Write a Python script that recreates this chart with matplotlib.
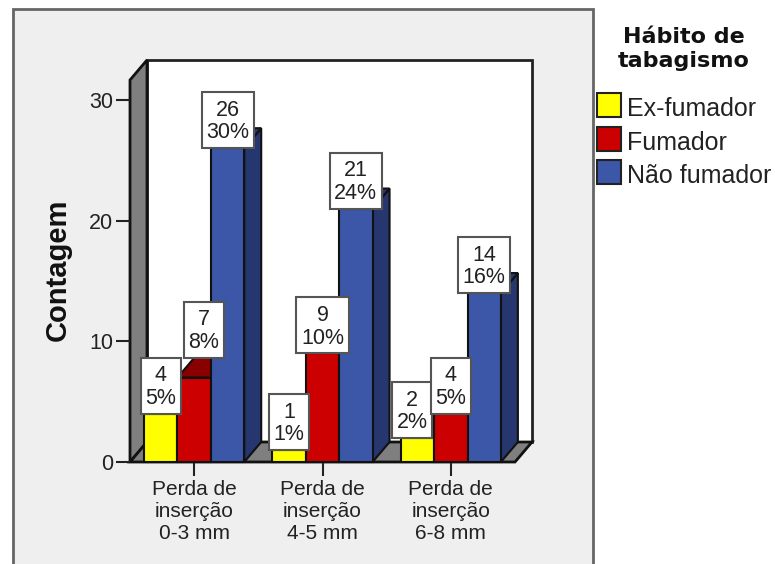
import matplotlib
matplotlib.use('Agg')
import matplotlib.pyplot as plt
from matplotlib.patches import Polygon, Rectangle

plt.rcParams['font.family'] = ['Liberation Sans', 'DejaVu Sans']

categories = ['Perda de\ninserção\n0-3 mm', 'Perda de\ninserção\n4-5 mm', 'Perda de\ninserção\n6-8 mm']
series_names = ['Ex-fumador', 'Fumador', 'Não fumador']
ex_fumador = [4, 1, 2]
fumador = [7, 9, 4]
nao_fumador = [26, 21, 14]
pct_ex = ['5%', '1%', '2%']
pct_fum = ['8%', '10%', '5%']
pct_nao = ['30%', '24%', '16%']
y_ticks = [0, 10, 20, 30]

front = ['#FFFF00', '#CC0000', '#3C56A8']
side = ['#A8A800', '#8A0000', '#26366F']
text_col = '#222222'
W, H = 775, 564

fig = plt.figure(figsize=(W / 100, H / 100), dpi=100, facecolor='white')

# panel and legend in pixel coordinates
bg = fig.add_axes([0, 0, 1, 1])
bg.set_xlim(0, W)
bg.set_ylim(H, 0)
bg.axis('off')
bg.add_patch(Rectangle((13, 9), 580, H, facecolor='#EFEFEF', edgecolor='#666666', lw=2))

bg.text(684, 49, 'Hábito de\ntabagismo', family='DejaVu Sans', weight='bold', fontsize=16,
        ha='center', va='center', linespacing=1.28, color='#111111')
for i, name in enumerate(series_names):
    top = 93 + i * 33.5
    bg.add_patch(Rectangle((597, top), 24, 24, facecolor=front[i], edgecolor='#222222', lw=1.5))
    bg.text(627, top + 16, name, fontsize=18, va='center', color=text_col)

bg.text(58, 270, 'Contagem', rotation=90, weight='bold', fontsize=21, ha='center', va='center',
        color='#111111')

# front plane of the 3d box
ax = fig.add_axes([130 / W, 1 - 462 / H, 385 / W, 382 / H])
ymax = 382 / 12.07
ax.set_xlim(-0.5, 2.5)
ax.set_ylim(0, ymax)
ax.patch.set_visible(False)
for s in ax.spines.values():
    s.set_visible(False)

px_x = 1 / 128.33
px_y = 1 / 12.07
dx = 17 * px_x
dy = 20 * px_y
x0, x1 = -0.5, 2.5

ax.add_patch(Rectangle((x0 + dx, dy), x1 - x0, ymax, facecolor='white', edgecolor='#222222',
                       lw=2, clip_on=False, zorder=1))
ax.add_patch(Polygon([(x0, 0), (x0, ymax), (x0 + dx, ymax + dy), (x0 + dx, dy)], facecolor='#7F7F7F',
                     edgecolor='#111111', lw=2, clip_on=False, zorder=1.5))
ax.add_patch(Polygon([(x0, 0), (x1, 0), (x1 + dx, dy), (x0 + dx, dy)], facecolor='#7F7F7F',
                     edgecolor='#111111', lw=2, clip_on=False, zorder=1.5))

width = 0.26
values = [ex_fumador, fumador, nao_fumador]
pcts = [pct_ex, pct_fum, pct_nao]

for j, vals in enumerate(values):
    offset = (j - 1) * width
    for g, v in enumerate(vals):
        c = g + offset
        l, r = c - width / 2, c + width / 2
        z = 3 + j
        ax.add_patch(Polygon([(r, 0), (r + dx, dy), (r + dx, v + dy), (r, v)], facecolor=side[j],
                             edgecolor='#111111', lw=1.5, clip_on=False, zorder=z))
        ax.add_patch(Polygon([(l, v), (l + dx, v + dy), (r + dx, v + dy), (r, v)], facecolor=side[j],
                             edgecolor='#111111', lw=1.5, clip_on=False, zorder=z))
        ax.bar(c, v, width, color=front[j], edgecolor='#111111', lw=1.5, clip_on=False, zorder=z + 0.1)

        # labels nudged so they do not overlap a neighbouring bar or box
        lx, ly = c, v
        if g == 0 and j == 1:
            lx += dx * 0.55
            ly += dy
        if g == 2 and j == 0:
            lx -= 5.5 * px_x
        pct = pcts[j][g]
        box_w = (52 if len(pct) == 3 else 40) * px_x
        box_h = 56 * px_y
        ax.add_patch(Rectangle((lx - box_w / 2, ly), box_w, box_h, facecolor='white', edgecolor='#555555',
                               lw=1.5, clip_on=False, zorder=10))
        ax.text(lx, ly + box_h / 2 - 1.5 * px_y, f'{v}\n{pct}', ha='center', va='center', fontsize=15.5,
                color=text_col, linespacing=1.1, zorder=11, clip_on=False)

ax.set_xticks(range(len(categories)))
ax.set_xticklabels(categories, fontsize=15, color=text_col, linespacing=1.2)
ax.set_yticks(y_ticks)
ax.set_yticklabels([str(t) for t in y_ticks], fontsize=15.5, color=text_col)
ax.tick_params(axis='x', length=10, width=1.5, color='#222222', pad=3)
ax.tick_params(axis='y', length=10, width=1.5, color='#222222', pad=2)

fig.savefig('out.png', dpi=100)
